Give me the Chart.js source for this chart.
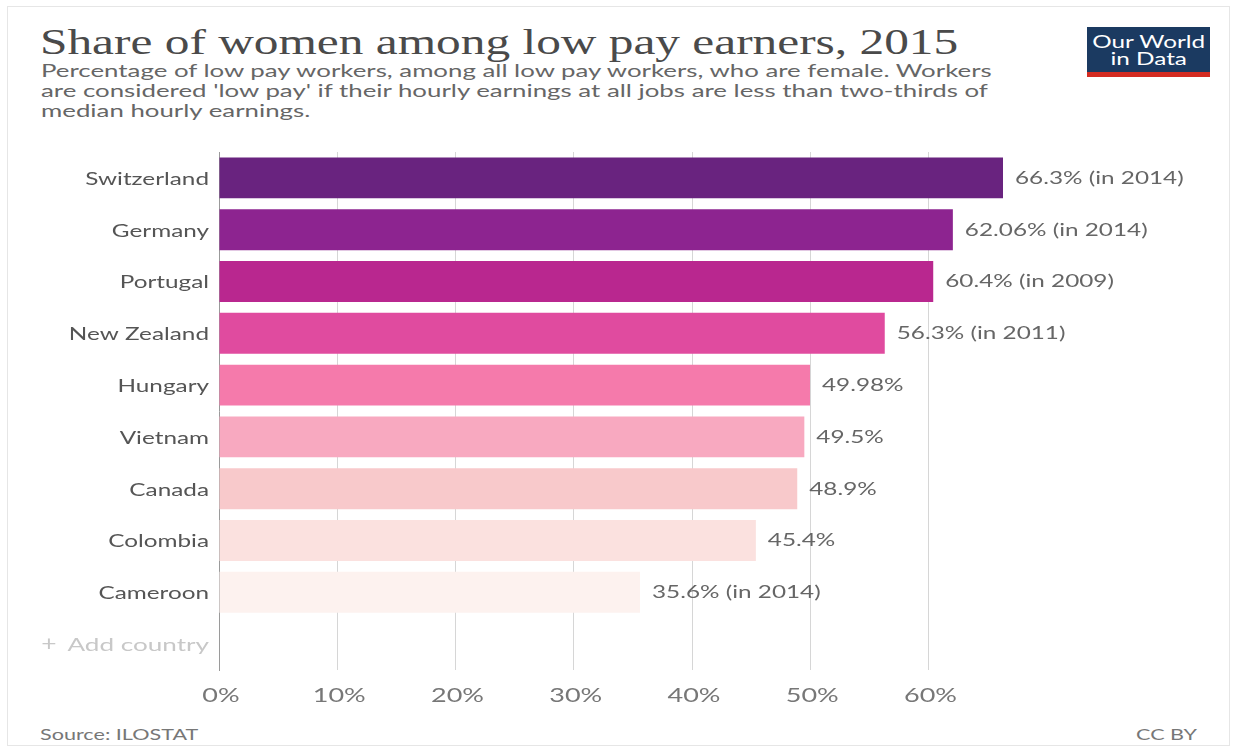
<!DOCTYPE html>
<html>
<head>
<meta charset="utf-8">
<script src="https://cdn.jsdelivr.net/npm/chart.js@4"></script>
<style>
  html, body { margin:0; padding:0; background:#fff; }
  body { width:1237px; height:752px; position:relative; overflow:hidden; font-family:Lato, sans-serif; }
  #frame { position:absolute; left:7px; top:6px; width:1223px; height:740px; border:1px solid #e6e6e6; box-sizing:border-box; }
  .sx { transform: scaleX(1.35); transform-origin: 0 0; white-space:nowrap; }
  #title { position:absolute; left:40px; top:25px; font-family:"Liberation Serif", serif; font-size:35px; line-height:35px; color:#4a4a4a; transform: scaleX(1.41); }
  #subtitle { position:absolute; left:41px; top:60px; font-size:18px; line-height:20px; color:#666; transform: scaleX(1.435); }
  #logo { position:absolute; left:1087px; top:27px; width:123px; height:50px; background:#1b3a61; box-sizing:border-box; border-bottom:5px solid #d42b21; }
  #logo div { position:absolute; left:5px; top:6px; color:#fff; font-size:18px; line-height:17px; text-align:center; width:84px; }
  #source { position:absolute; left:40px; top:724px; font-size:16px; color:#777; }
  #cc { position:absolute; left:1136px; top:724px; font-size:16px; color:#777; }
  canvas { position:absolute; left:0; top:0; }
</style>
</head>
<body>
<div id="frame"></div>
<div id="title" class="sx">Share of women among low pay earners, 2015</div>
<div id="subtitle" class="sx">Percentage of low pay workers, among all low pay workers, who are female. Workers<br>are considered 'low pay' if their hourly earnings at all jobs are less than two-thirds of<br>median hourly earnings.</div>
<div id="logo"><div class="sx">Our World<br>in Data</div></div>
<div id="source" class="sx">Source: ILOSTAT</div>
<div id="cc" class="sx">CC BY</div>
<canvas id="c" width="1237" height="752"></canvas>
<script>
const countries = ["Switzerland","Germany","Portugal","New Zealand","Hungary","Vietnam","Canada","Colombia","Cameroon"];
const values = [66.3, 62.06, 60.4, 56.3, 49.98, 49.5, 48.9, 45.4, 35.6];
const years = [2014, 2014, 2009, 2011, null, null, null, null, 2014];
const barColors = ["#69237f","#8d2490","#b9278f","#e04b9f","#f57aab","#f8a9c0","#f8c9cb","#fbe1df","#fdf2ef"];
const xTickValues = [0, 10, 20, 30, 40, 50, 60];
const addLabel = "Add country";

const labels = countries.concat([addLabel]);
const data = values.concat([null]);
const SX = 1.35;

function stretchText(ctx, txt, x, y, align, sx) {
  ctx.save();
  ctx.translate(x, y);
  ctx.scale(sx || SX, 1);
  ctx.textAlign = align;
  ctx.fillText(txt, 0, 0);
  ctx.restore();
}

const textLayer = {
  id: 'textLayer',
  afterDatasetsDraw(chart) {
    const ctx = chart.ctx;
    const ys = chart.scales.y, xs = chart.scales.x;
    ctx.save();
    ctx.textBaseline = 'middle';
    // value labels
    ctx.font = '18px Lato';
    ctx.fillStyle = '#666';
    chart.getDatasetMeta(0).data.forEach((bar, i) => {
      if (values[i] == null) return;
      const txt = values[i] + '%' + (years[i] ? ' (in ' + years[i] + ')' : '');
      stretchText(ctx, txt, bar.x + 12, bar.y, 'left');
    });
    // category labels
    labels.forEach((lab, i) => {
      const last = i === labels.length - 1;
      ctx.fillStyle = last ? '#c8c8c8' : '#555';
      const y = ys.getPixelForTick(i) + 1;
      stretchText(ctx, lab, ys.right - 10, y, 'right', last ? 1.45 : SX);
      if (last) {
        ctx.font = '22px Lato';
        stretchText(ctx, '+', ys.right - 170, y - 1, 'center', 1.2);
        ctx.font = '18px Lato';
      }
    });
    // x tick labels
    ctx.font = '20px Lato';
    ctx.fillStyle = '#777';
    xTickValues.forEach(v => {
      stretchText(ctx, v + '%', xs.getPixelForValue(v) + 2, xs.top + 26, 'center');
    });
    ctx.restore();
  }
};

new Chart(document.getElementById('c'), {
  type: 'bar',
  data: { labels, datasets: [{ data, backgroundColor: barColors, borderWidth: 0, categoryPercentage: 1, barPercentage: 0.79 }] },
  options: {
    indexAxis: 'y',
    responsive: false,
    animation: false,
    layout: { padding: { left: 0, right: 72, top: 152, bottom: 40 } },
    plugins: { legend: { display: false }, tooltip: { enabled: false } },
    scales: {
      x: {
        min: 0, max: 80,
        afterBuildTicks(scale) { scale.ticks = xTickValues.map(v => ({ value: v })); },
        afterFit(scale) { scale.height = 42; },
        border: { display: false },
        grid: { color: (c) => c.tick && c.tick.value === 0 ? 'rgba(0,0,0,0)' : '#d6d6d6', lineWidth: 1, drawTicks: false, borderDash: [2, 3] },
        ticks: { padding: 14, color: 'rgba(0,0,0,0)', font: { family: 'Lato', size: 20 }, callback: (v) => v + '%' }
      },
      y: {
        afterFit(scale) { scale.width = 219; },
        border: { display: true, color: '#9a9a9a', width: 1 },
        grid: { display: false, drawTicks: false },
        ticks: { padding: 10, color: 'rgba(0,0,0,0)', font: { family: 'Lato', size: 18 } }
      }
    }
  },
  plugins: [textLayer]
});
</script>
</body>
</html>
